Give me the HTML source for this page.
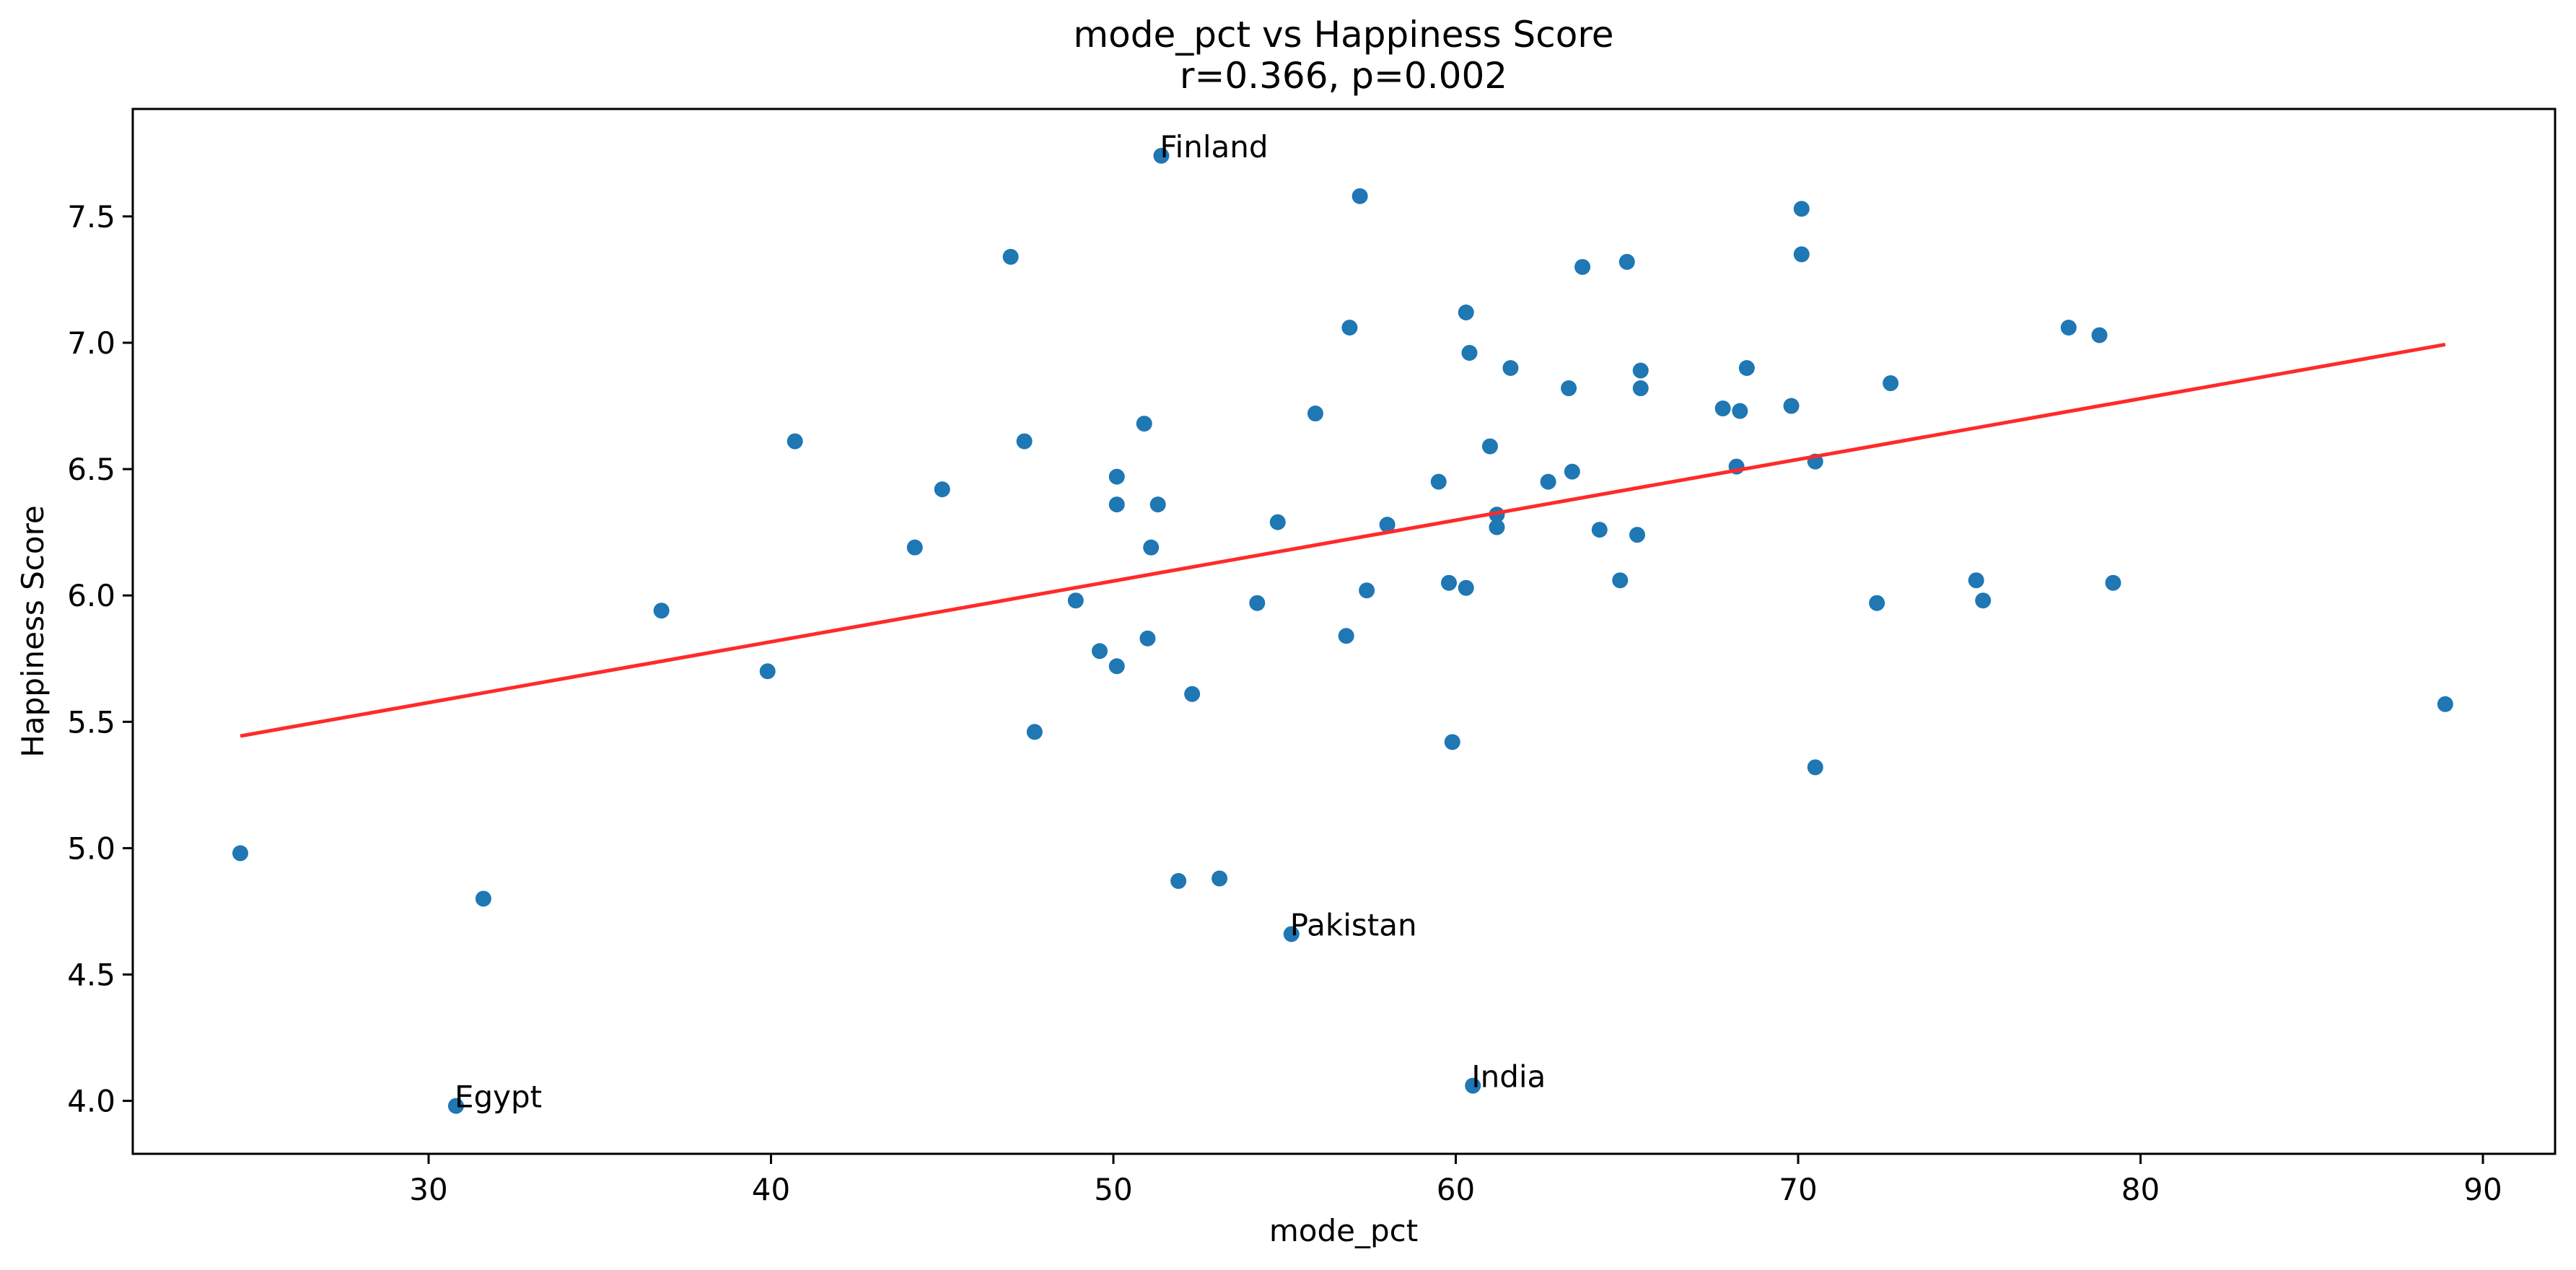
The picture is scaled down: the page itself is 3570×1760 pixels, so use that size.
<!DOCTYPE html>
<html><head><meta charset="utf-8"><style>
html,body{margin:0;padding:0;background:#fff;}
svg{display:block;font-family:"DejaVu Sans","Liberation Sans",sans-serif;}
</style></head><body>
<svg id="chart" width="3570" height="1760" viewBox="0 0 3570 1760" xmlns="http://www.w3.org/2000/svg">
<rect width="3570" height="1760" fill="#fff"/>
<text x="1862" y="65" font-size="50" text-anchor="middle">mode_pct vs Happiness Score</text>
<text x="1862" y="122" font-size="50" text-anchor="middle">r=0.366, p=0.002</text>
<g id="marks"></g>
<rect x="184" y="151" width="3357" height="1448" fill="none" stroke="#000" stroke-width="3"/>
<text x="1862" y="1720" font-size="42" text-anchor="middle">mode_pct</text>
<text x="0" y="0" font-size="42" text-anchor="middle" transform="translate(60,875) rotate(-90)">Happiness Score</text>
</svg>
<script>
const xs = [30.8,60.5,55.2,51.4,24.5,31.6,36.8,39.9,40.7,44.2,45.0,47.0,47.4,47.7,48.9,49.6,50.1,50.1,50.1,50.9,51.0,51.1,51.3,51.9,52.3,53.1,54.2,54.8,55.9,56.9,56.8,57.2,57.4,58.0,59.5,59.8,59.9,60.3,60.3,60.4,61.0,61.2,61.2,61.6,62.7,63.3,63.4,63.7,64.2,64.8,65.0,65.3,65.4,65.4,67.8,68.2,68.3,68.5,69.8,70.1,70.1,70.5,70.5,72.3,72.7,75.2,75.4,77.9,78.8,79.2,88.9];
const ys = [3.98,4.06,4.66,7.74,4.98,4.80,5.94,5.70,6.61,6.19,6.42,7.34,6.61,5.46,5.98,5.78,6.47,6.36,5.72,6.68,5.83,6.19,6.36,4.87,5.61,4.88,5.97,6.29,6.72,7.06,5.84,7.58,6.02,6.28,6.45,6.05,5.42,7.12,6.03,6.96,6.59,6.32,6.27,6.90,6.45,6.82,6.49,7.30,6.26,6.06,7.32,6.24,6.89,6.82,6.74,6.51,6.73,6.90,6.75,7.53,7.35,6.53,5.32,5.97,6.84,6.06,5.98,7.06,7.03,6.05,5.57];
const labels = ["Egypt","India","Pakistan","Finland"];
const xTicks = [30,40,50,60,70,80,90];
const yTicks = [4.0,4.5,5.0,5.5,6.0,6.5,7.0,7.5];
const lineX = [24.5,88.9];

const X = v => 594 + (v-30)*47.45;
const Y = v => 1525.6 - (v-4.0)*350.2;
const NS = "http://www.w3.org/2000/svg";
const g = document.getElementById('marks');
function mk(tag, attrs, parent){const e=document.createElementNS(NS,tag);for(const k in attrs)e.setAttribute(k,attrs[k]);(parent||g).appendChild(e);return e;}

xTicks.forEach(t=>{
  const l=mk('line',{x1:X(t),x2:X(t),y1:1599,y2:1613,stroke:'#000','stroke-width':3});
  
  
  const tx=mk('text',{x:X(t),y:1663,'font-size':42,'text-anchor':'middle'});
  tx.textContent=String(t);
  
  
});
yTicks.forEach(t=>{
  const l=mk('line',{x1:170,x2:184,y1:Y(t),y2:Y(t),stroke:'#000','stroke-width':3});
  
  
  const tx=mk('text',{x:160,y:Y(t)+15,'font-size':42,'text-anchor':'end'});
  tx.textContent=t.toFixed(1);
  
  
});

xs.forEach((x,i)=>{
  const c=mk('circle',{cx:X(x),cy:Y(ys[i]),r:11,fill:'#1f77b4'});
  
  
});

const n=xs.length;
const mx=xs.reduce((a,b)=>a+b,0)/n, my=ys.reduce((a,b)=>a+b,0)/n;
let sxy=0,sxx=0;for(let i=0;i<n;i++){sxy+=(xs[i]-mx)*(ys[i]-my);sxx+=(xs[i]-mx)**2;}
const slope=sxy/sxx, icpt=my-slope*mx;
const fl=mk('line',{x1:X(lineX[0]),y1:Y(icpt+slope*lineX[0]),x2:X(lineX[1]),y2:Y(icpt+slope*lineX[1]),stroke:'#ff2a2a','stroke-width':5});



labels.forEach((name,i)=>{
  const t=mk('text',{x:X(xs[i])-2,y:Y(ys[i])+2,'font-size':42});
  t.textContent=name;
  
  
});
</script>
</body></html>
